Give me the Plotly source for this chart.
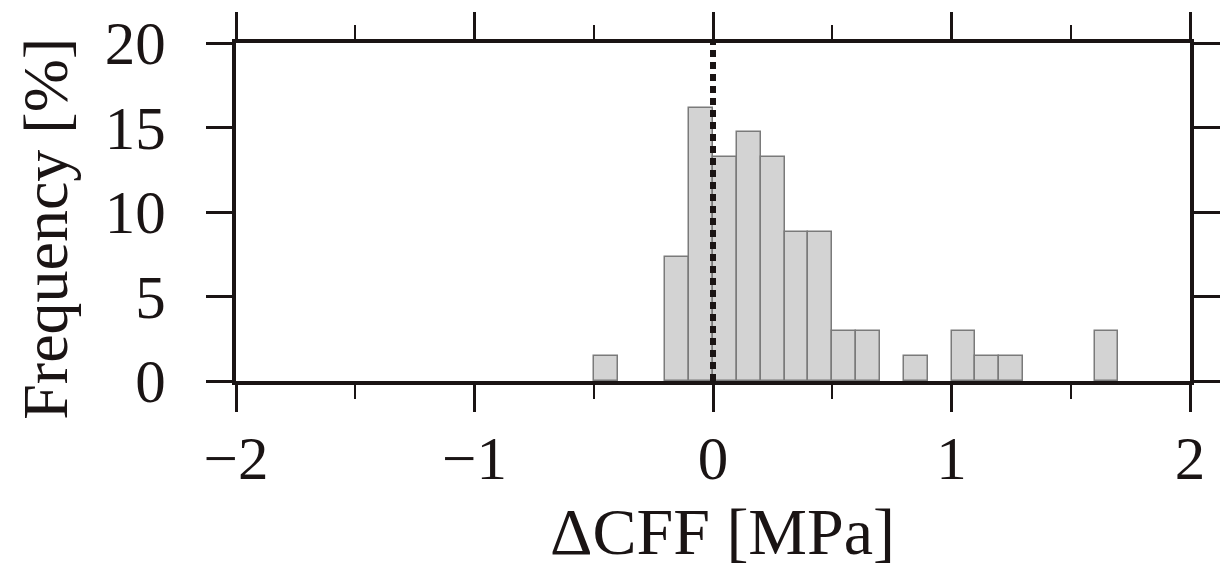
import plotly.graph_objects as go

# Histogram of Coulomb failure stress change (bin width 0.1 MPa)
bin_left = [-0.5, -0.2, -0.1, 0.0, 0.1, 0.2, 0.3, 0.4, 0.5, 0.6, 0.8, 1.0, 1.1, 1.2, 1.6]
freq_pct = [1.47, 7.35, 16.18, 13.24, 14.71, 13.24, 8.82, 8.82, 2.94, 2.94, 1.47, 2.94, 1.47, 1.47, 2.94]
bin_width = 0.1

x_ticks = [-2, -1, 0, 1, 2]
x_ticklabels = ["\u22122", "\u22121", "0", "1", "2"]
y_ticks = [0, 5, 10, 15, 20]

FONT = "Liberation Serif"
INK = "#1a1414"

fig = go.Figure()
fig.add_trace(go.Bar(
    x=[b + bin_width / 2 for b in bin_left],
    y=freq_pct,
    width=bin_width,
    marker=dict(color="#d3d3d3", line=dict(color="#7a7a7a", width=1.5)),
    showlegend=False,
))

# dotted reference line at zero
fig.add_shape(type="line", x0=0, x1=0, y0=0, y1=20, xref="x", yref="y",
              line=dict(color=INK, width=6, dash="7px,5px"), layer="above")

fig.update_layout(
    width=1221, height=567,
    margin=dict(l=236, r=31, t=43, b=186),
    paper_bgcolor="white", plot_bgcolor="white",
    font=dict(family=FONT, color=INK, size=60),
    bargap=0,
)
fig.update_xaxes(
    range=[-2, 2], tickvals=x_ticks, ticktext=x_ticklabels,
    ticks="outside", ticklen=27, tickwidth=2.5, tickcolor=INK,
    minor=dict(dtick=0.5, tick0=0, ticks="outside", ticklen=14, tickwidth=2, tickcolor=INK),
    showline=True, linewidth=4, linecolor=INK, mirror="ticks",
    showgrid=False, zeroline=False, automargin=False,
    tickfont=dict(size=61, family=FONT, color=INK),
    ticklabelstandoff=-6,
)
fig.update_yaxes(
    range=[0, 20], tickvals=y_ticks,
    ticks="outside", ticklen=26, tickwidth=2.5, tickcolor=INK,
    showline=True, linewidth=4, linecolor=INK, mirror="ticks",
    showgrid=False, zeroline=False, automargin=False,
    tickfont=dict(size=61, family=FONT, color=INK),
    ticklabelstandoff=28,
)

fig.add_annotation(text="\u0394CFF [MPa]", xref="paper", yref="paper",
                   x=0.51, y=-0.56, xanchor="center", yanchor="bottom", showarrow=False,
                   font=dict(size=66, family=FONT, color=INK))
fig.add_annotation(text="Frequency [%]", xref="paper", yref="paper",
                   x=-0.16, y=0.45, xanchor="right", yanchor="middle", showarrow=False,
                   textangle=-90,
                   font=dict(size=64, family=FONT, color=INK))

fig.write_html("out.html")
